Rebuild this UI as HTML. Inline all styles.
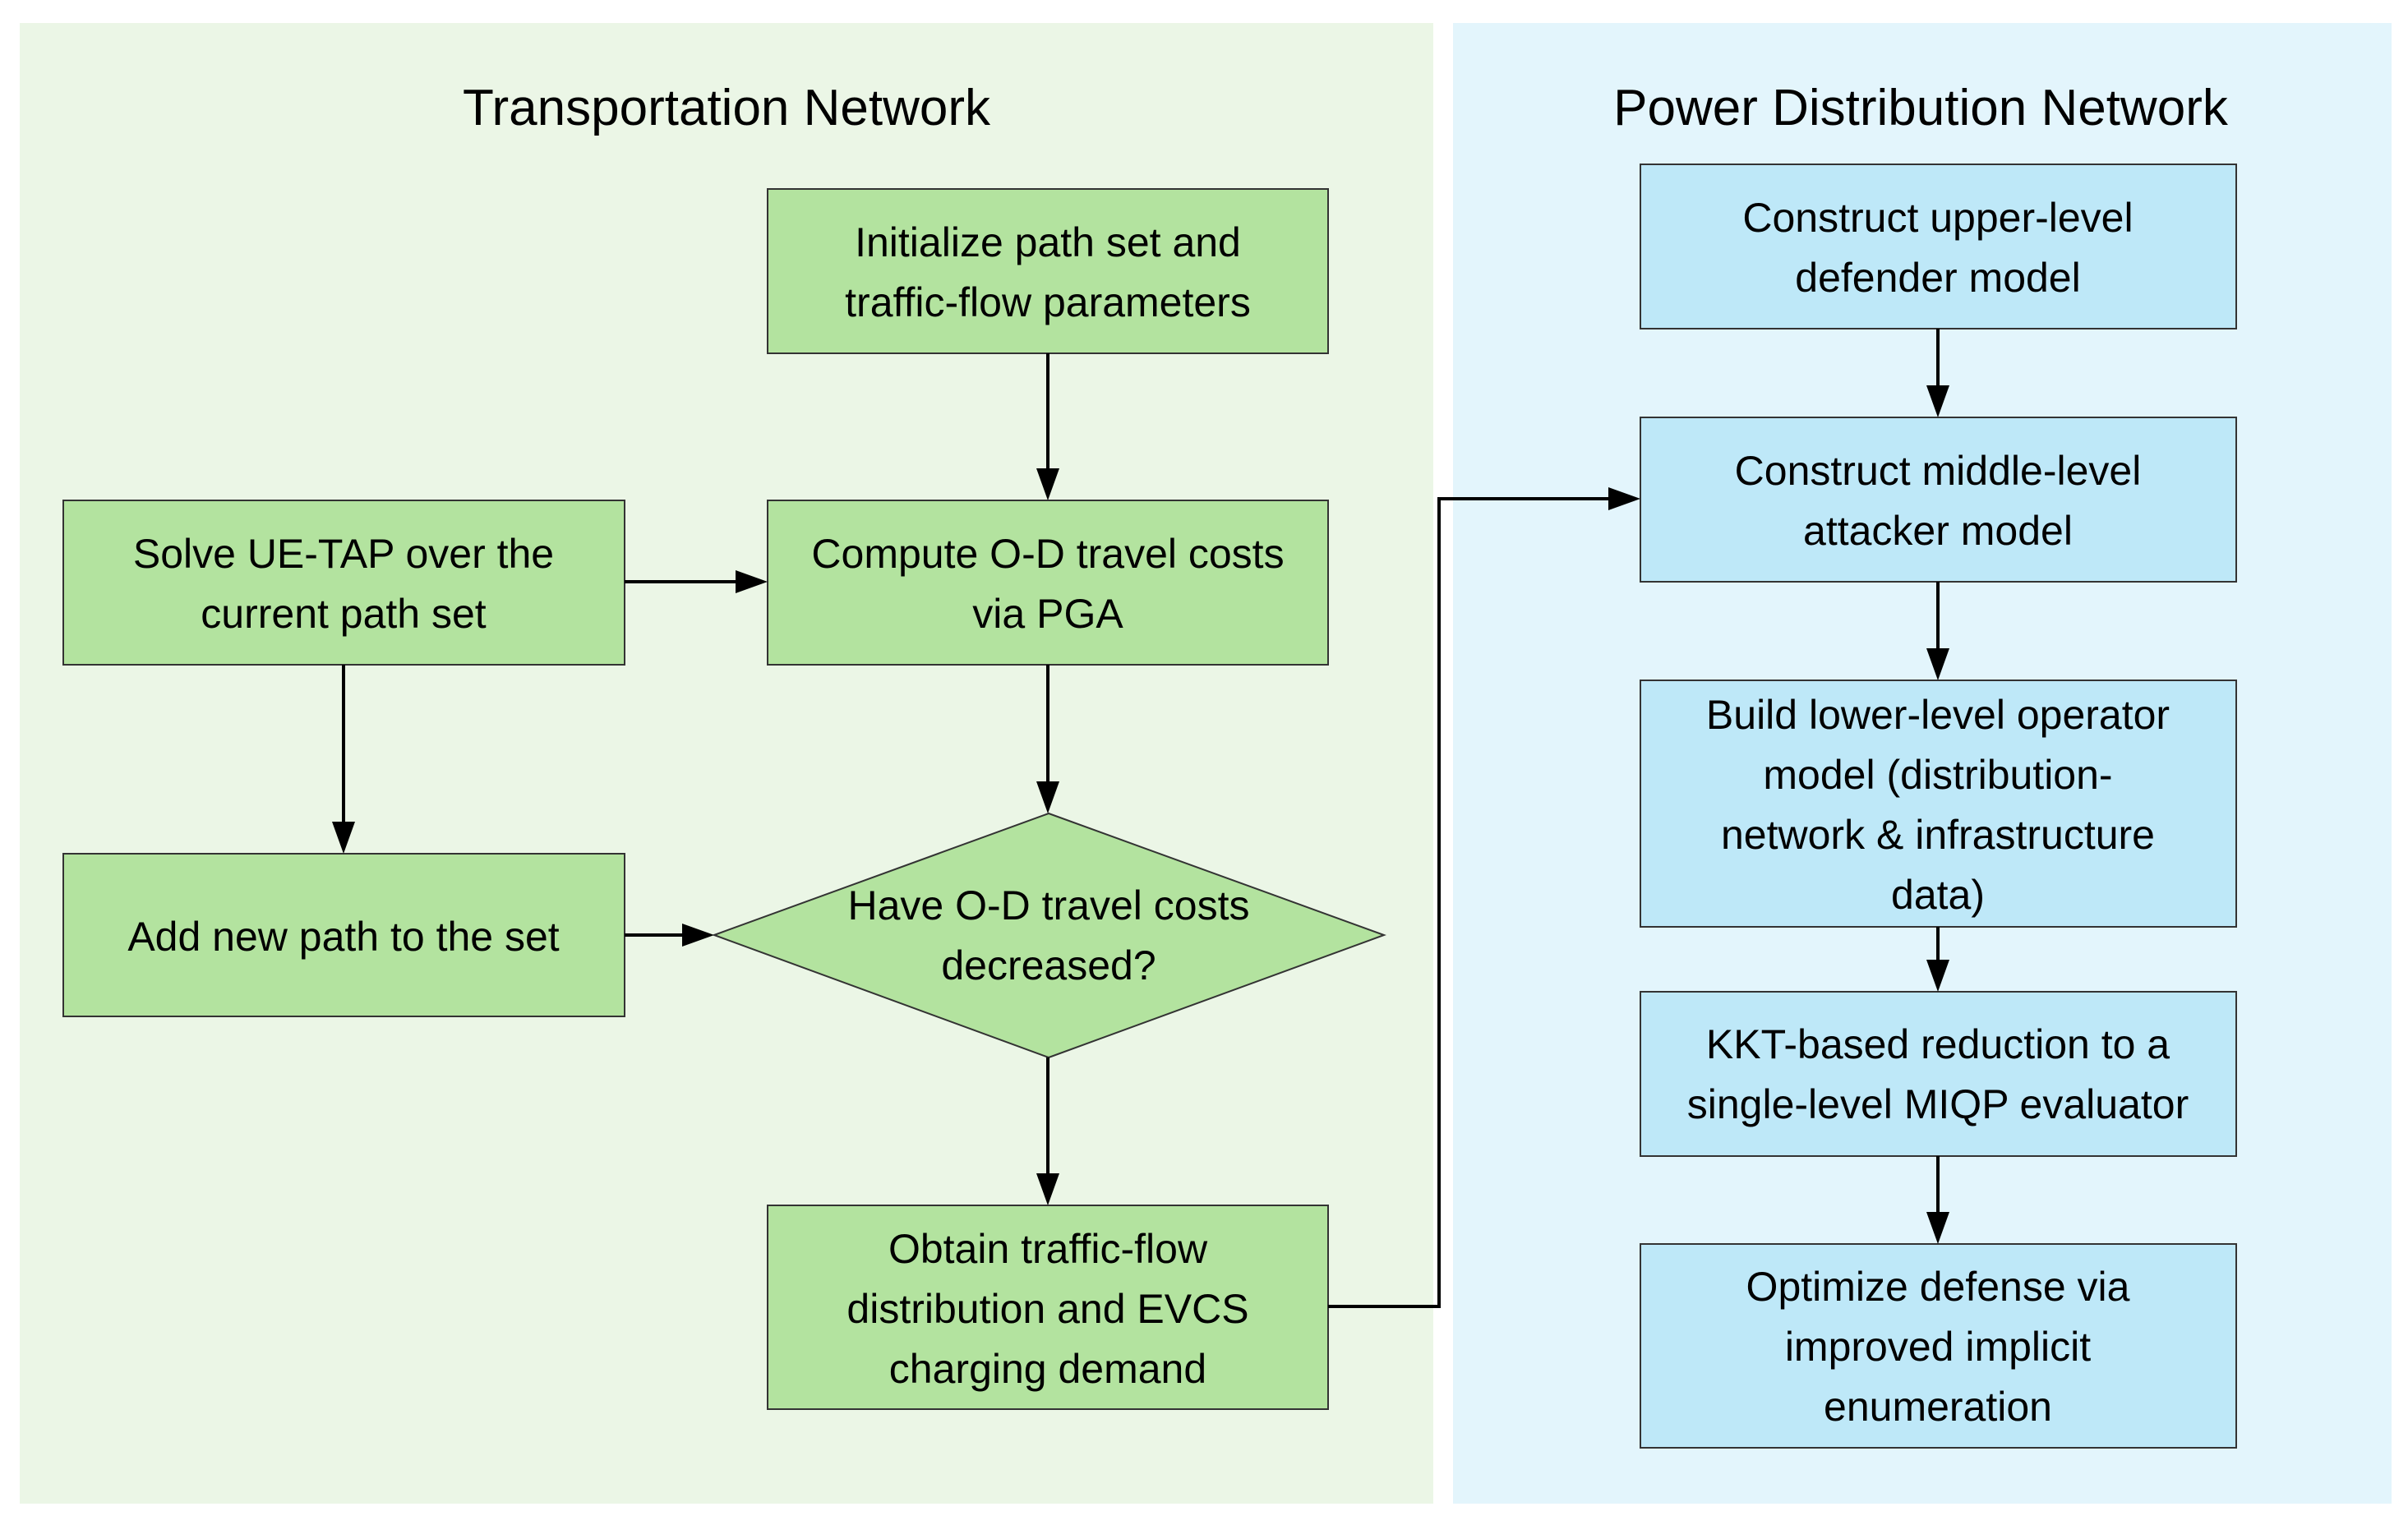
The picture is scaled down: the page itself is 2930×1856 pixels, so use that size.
<!DOCTYPE html>
<html><head><meta charset="utf-8"><style>
html,body{margin:0;padding:0;background:#fff;}
svg{display:block;}
text{font-family:"Liberation Sans",sans-serif;fill:#000;}
.t{font-size:50px;}
.h{font-size:62px;}
</style></head><body>
<svg width="2930" height="1856" viewBox="0 0 2930 1856" xmlns="http://www.w3.org/2000/svg">
<rect x="24" y="28" width="1720" height="1802" fill="#ebf6e6"/>
<rect x="1768" y="28" width="1142" height="1802" fill="#e3f5fc"/>
<text class="h" x="884" y="152" text-anchor="middle">Transportation Network</text>
<text class="h" x="2337" y="152" text-anchor="middle">Power Distribution Network</text>

<g stroke="#333" stroke-width="2" fill="#b3e39f">
<rect x="934" y="230" width="682" height="200"/>
<rect x="934" y="609" width="682" height="200"/>
<rect x="77" y="609" width="683" height="200"/>
<rect x="77" y="1039" width="683" height="198"/>
<polygon points="869,1138 1276,990 1684,1138 1276,1287"/>
<rect x="934" y="1467" width="682" height="248"/>
</g>
<g stroke="#333" stroke-width="2" fill="#bee8f8">
<rect x="1996" y="200" width="725" height="200"/>
<rect x="1996" y="508" width="725" height="200"/>
<rect x="1996" y="828" width="725" height="300"/>
<rect x="1996" y="1207" width="725" height="200"/>
<rect x="1996" y="1514" width="725" height="248"/>
</g>

<g stroke="#000" stroke-width="4" fill="none">
<line x1="1275" y1="430" x2="1275" y2="575"/>
<line x1="760" y1="708" x2="900" y2="708"/>
<line x1="418" y1="809" x2="418" y2="1005"/>
<line x1="760" y1="1138" x2="835" y2="1138"/>
<line x1="1275" y1="809" x2="1275" y2="957"/>
<line x1="1275" y1="1287" x2="1275" y2="1433"/>
<polyline points="1616,1590 1751,1590 1751,607 1965,607"/>
<line x1="2358" y1="400" x2="2358" y2="475"/>
<line x1="2358" y1="708" x2="2358" y2="795"/>
<line x1="2358" y1="1128" x2="2358" y2="1175"/>
<line x1="2358" y1="1407" x2="2358" y2="1481"/>
</g>
<g fill="#000">
<polygon points="1261,570 1289,570 1275,609"/>
<polygon points="895,694 895,722 934,708"/>
<polygon points="404,1000 432,1000 418,1039"/>
<polygon points="830,1124 830,1152 869,1138"/>
<polygon points="1261,951 1289,951 1275,990"/>
<polygon points="1261,1428 1289,1428 1275,1467"/>
<polygon points="1957,593 1957,621 1996,607"/>
<polygon points="2344,469 2372,469 2358,508"/>
<polygon points="2344,789 2372,789 2358,828"/>
<polygon points="2344,1168 2372,1168 2358,1207"/>
<polygon points="2344,1475 2372,1475 2358,1514"/>
</g>

<g class="t" text-anchor="middle">
<text x="1275" y="312">Initialize path set and</text>
<text x="1275" y="385">traffic-flow parameters</text>
<text x="1275" y="691">Compute O-D travel costs</text>
<text x="1275" y="764">via PGA</text>
<text x="418" y="691">Solve UE-TAP over the</text>
<text x="418" y="764">current path set</text>
<text x="418" y="1157">Add new path to the  set</text>
<text x="1276" y="1119">Have O-D travel costs</text>
<text x="1276" y="1192">decreased?</text>
<text x="1275" y="1537">Obtain traffic-flow</text>
<text x="1275" y="1610">distribution and EVCS</text>
<text x="1275" y="1683">charging demand</text>
<text x="2358" y="282">Construct upper-level</text>
<text x="2358" y="355">defender model</text>
<text x="2358" y="590">Construct middle-level</text>
<text x="2358" y="663">attacker model</text>
<text x="2358" y="887">Build lower-level operator</text>
<text x="2358" y="960">model (distribution-</text>
<text x="2358" y="1033">network &amp; infrastructure</text>
<text x="2358" y="1106">data)</text>
<text x="2358" y="1288">KKT-based reduction to a</text>
<text x="2358" y="1361">single-level MIQP evaluator</text>
<text x="2358" y="1583">Optimize defense via</text>
<text x="2358" y="1656">improved implicit</text>
<text x="2358" y="1729">enumeration</text>
</g>
</svg>
</body></html>
